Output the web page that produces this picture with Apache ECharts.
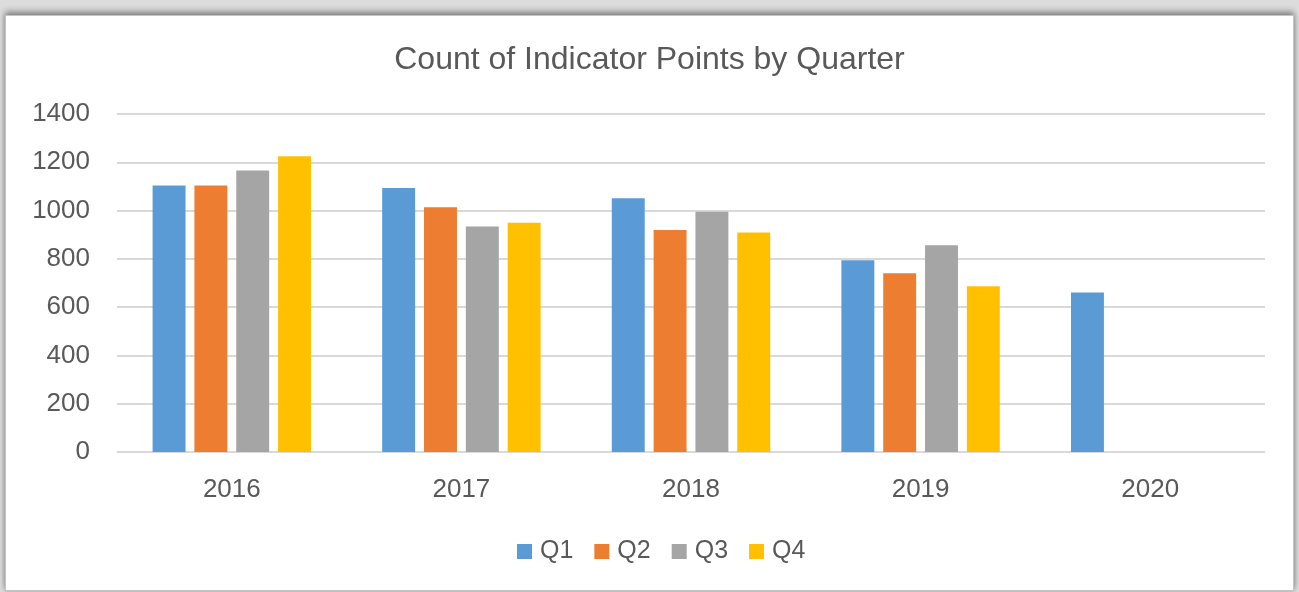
<!DOCTYPE html>
<html>
<head>
<meta charset="utf-8">
<script src="https://cdn.jsdelivr.net/npm/echarts@6/dist/echarts.min.js"></script>
<style>
  html, body { margin: 0; padding: 0; width: 1299px; height: 592px; overflow: hidden; background: #dcdcdc; }
  .frame {
    position: absolute; left: 5px; top: 15px; width: 1287px; height: 574px;
    background: #fff; border: 1px solid #c4c4c4;
    box-shadow: 0 -4px 6px rgba(0, 0, 0, 0.3), 0 0 5px rgba(0, 0, 0, 0.25);
  }
  #chart { position: absolute; left: 0; top: 0; width: 1299px; height: 592px; }
</style>
</head>
<body>
<div class="frame"></div>
<div id="chart"></div>
<script>
const years = ['2016', '2017', '2018', '2019', '2020']
const q1 = [1104, 1094, 1051, 794, 661]
const q2 = [1104, 1014, 920, 740, null]
const q3 = [1166, 934, 995, 856, null]
const q4 = [1225, 950, 909, 687, null]
const yTicks = [0, 200, 400, 600, 800, 1000, 1200, 1400]

const font = 'Liberation Sans, Arial, sans-serif'
const textColor = '#595959'

const chart = echarts.init(document.getElementById('chart'), null, { renderer: 'canvas' })

const seriesDefs = [
  { name: 'Q1', data: q1, color: '#5b9bd5' },
  { name: 'Q2', data: q2, color: '#ed7d31' },
  { name: 'Q3', data: q3, color: '#a5a5a5' },
  { name: 'Q4', data: q4, color: '#ffc000' },
]

chart.setOption({
  animation: false,
  backgroundColor: 'transparent',
  title: {
    text: 'Count of Indicator Points by Quarter',
    left: 'center',
    top: 39,
    textStyle: { fontFamily: font, fontSize: 32, fontWeight: 'normal', color: textColor },
  },
  grid: { left: 117, right: 34, top: 114, bottom: 140 },
  legend: {
    top: 534,
    left: 512,
    icon: 'rect',
    itemWidth: 15,
    itemHeight: 15,
    itemGap: 21,
    textStyle: { fontFamily: font, fontSize: 25, color: textColor, padding: [0, 0, 0, 3] },
    data: seriesDefs.map((s) => s.name),
  },
  xAxis: {
    type: 'category',
    data: years,
    axisLine: { lineStyle: { color: '#d9d9d9', width: 1 } },
    axisTick: { show: false },
    axisLabel: { fontFamily: font, fontSize: 26, color: textColor, margin: 25 },
  },
  yAxis: {
    type: 'value',
    min: yTicks[0],
    max: yTicks[yTicks.length - 1],
    interval: 200,
    axisLine: { show: false },
    axisTick: { show: false },
    axisLabel: { fontFamily: font, fontSize: 26, color: textColor, margin: 27, formatter: (v) => String(v) },
    splitLine: { lineStyle: { color: '#d9d9d9', width: 2 } },
  },
  series: seriesDefs.map((s) => ({
    name: s.name,
    type: 'bar',
    data: s.data,
    itemStyle: { color: s.color },
    barGap: '27%',
    barCategoryGap: '31%',
  })),
})
</script>
</body>
</html>
